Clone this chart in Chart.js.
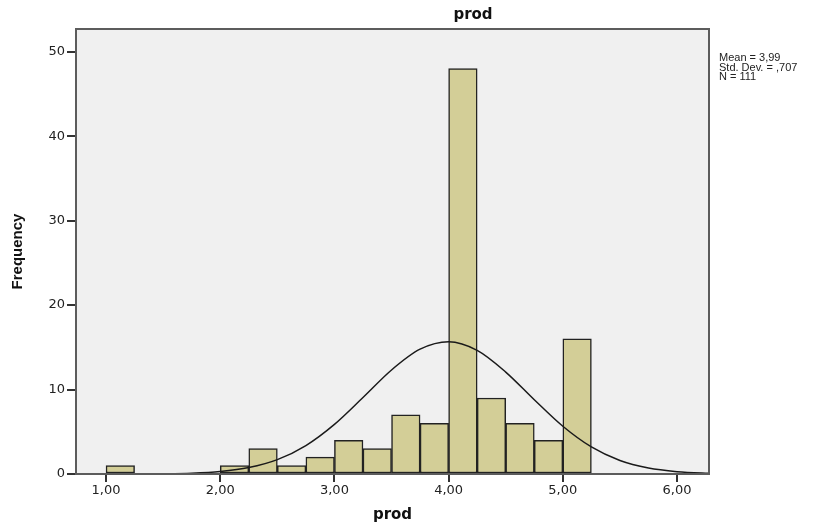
<!DOCTYPE html>
<html>
<head>
<meta charset="utf-8">
<script src="https://cdn.jsdelivr.net/npm/chart.js@4.4.1/dist/chart.umd.min.js"></script>
<style>
html,body{margin:0;padding:0;background:#fff;}
#wrap{width:838px;height:526px;position:relative;}
</style>
</head>
<body>
<div id="wrap"><canvas id="c" width="838" height="526"></canvas></div>
<script>
// Histogram bins (centres of 0.25-wide bins) and frequencies
const binCenters = [1.125, 2.125, 2.375, 2.625, 2.875, 3.125, 3.375, 3.625, 3.875, 4.125, 4.375, 4.625, 4.875, 5.125];
const frequencies = [1, 1, 3, 1, 2, 4, 3, 7, 6, 48, 9, 6, 4, 16];
// Normal curve, values
const curveX = [1.25, 1.5, 1.75, 2.0, 2.25, 2.5, 2.75, 3.0, 3.25, 3.5, 3.75, 4.0, 4.25, 4.5, 4.75, 5.0, 5.25, 5.5, 5.75, 6.0, 6.25, 6.3];
const curveY = [0.01, 0.03, 0.10, 0.30, 0.76, 1.70, 3.37, 5.88, 9.06, 12.32, 14.78, 15.66, 14.64, 12.07, 8.79, 5.65, 3.20, 1.60, 0.71, 0.28, 0.09, 0.07];
const xTicks = [1, 2, 3, 4, 5, 6];
const yTicks = [0, 10, 20, 30, 40, 50];
const statLines = ['Mean = 3,99', 'Std. Dev. = ,707', 'N = 111'];
const titleText = 'prod';
const xTitle = 'prod';
const yTitle = 'Frequency';

const fmt = v => v.toFixed(2).replace('.', ',');
const tickFont = {size: 13, family: '"DejaVu Sans", Verdana, sans-serif'};

const framePlugin = {
  id: 'frame',
  beforeDatasetsDraw(chart) {
    const {ctx, chartArea: a} = chart;
    ctx.save();
    ctx.fillStyle = '#f0f0f0';
    ctx.fillRect(a.left, a.top, a.right - a.left, a.bottom - a.top);
    ctx.restore();
  },
  afterDraw(chart) {
    const {ctx, chartArea: a} = chart;
    ctx.save();
    ctx.strokeStyle = '#5c5c5c';
    ctx.lineWidth = 2;
    ctx.strokeRect(a.left, a.top, a.right - a.left, a.bottom - a.top);
    ctx.fillStyle = '#111';
    ctx.textBaseline = 'middle';
    ctx.textAlign = 'center';
    ctx.font = 'bold 15px "DejaVu Sans", Verdana, sans-serif';
    ctx.fillText(titleText, 473, 15);
    ctx.fillText(xTitle, (a.left + a.right) / 2, 515);
    ctx.save();
    ctx.translate(18, (a.top + a.bottom) / 2);
    ctx.rotate(-Math.PI / 2);
    ctx.font = 'bold 15px "Liberation Sans Narrow", "Liberation Sans", Arial, sans-serif';
    ctx.fillText(yTitle, 0, 0);
    ctx.restore();
    ctx.textAlign = 'left';
    ctx.font = '11px "Liberation Sans", Arial, sans-serif';
    ctx.fillStyle = '#222';
    statLines.forEach((s, i) => ctx.fillText(s, 719, 58 + i * 9.5));
    ctx.restore();
  }
};

new Chart(document.getElementById('c'), {
  data: {
    datasets: [
      {
        type: 'line',
        data: curveX.map((x, i) => ({x, y: curveY[i]})),
        borderColor: '#1a1a1a',
        borderWidth: 1.5,
        pointRadius: 0,
        cubicInterpolationMode: 'monotone',
        order: 0
      },
      {
        type: 'bar',
        data: binCenters.map((x, i) => ({x, y: frequencies[i]})),
        backgroundColor: '#d3ce97',
        borderColor: '#222',
        borderWidth: 1.5,
        borderSkipped: false,
        barPercentage: 1,
        categoryPercentage: 1,
        order: 1
      }
    ]
  },
  options: {
    responsive: false,
    animation: false,
    layout: {padding: {left: 0, right: 129, top: 29, bottom: 0}},
    plugins: {legend: {display: false}, tooltip: {enabled: false}, title: {display: false}},
    scales: {
      x: {
        type: 'linear',
        offset: false,
        min: 0.737,
        max: 6.28,
        afterBuildTicks: s => { s.ticks = xTicks.map(v => ({value: v})); },
        afterFit: s => { s.height = 52; },
        grid: {display: true, offset: false, drawOnChartArea: false, drawTicks: true, tickLength: 8, color: '#333', lineWidth: 2},
        border: {display: false},
        ticks: {callback: v => fmt(v), color: '#222', font: tickFont, padding: 1, maxRotation: 0}
      },
      y: {
        type: 'linear',
        min: 0,
        max: 52.7,
        afterBuildTicks: s => { s.ticks = yTicks.map(v => ({value: v})); },
        afterFit: s => { s.width = 76; },
        grid: {display: true, drawOnChartArea: false, drawTicks: true, tickLength: 9, color: '#333', lineWidth: 2},
        border: {display: false},
        ticks: {color: '#222', font: tickFont, padding: 2}
      }
    }
  },
  plugins: [framePlugin]
});
</script>
</body>
</html>
